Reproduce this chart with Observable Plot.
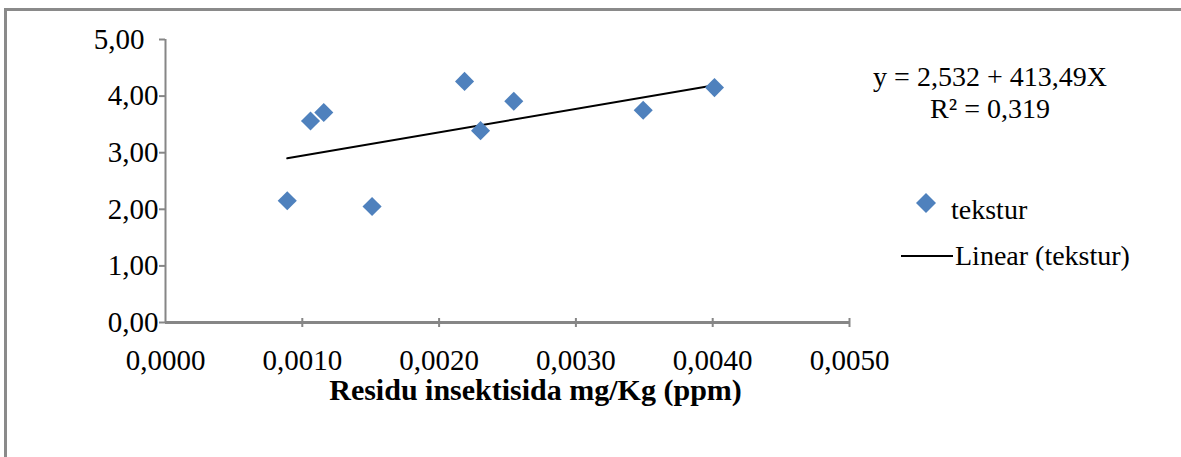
<!DOCTYPE html>
<html>
<head>
<meta charset="utf-8">
<script src="https://cdn.jsdelivr.net/npm/d3@7"></script>
<script src="https://cdn.jsdelivr.net/npm/@observablehq/plot@0.6"></script>
<style>
  html, body { margin: 0; padding: 0; background: #fff; width: 1181px; height: 457px; overflow: hidden; }
  #wrap { position: relative; width: 1181px; height: 457px; font-family: "Liberation Serif", "Times New Roman", serif; }
  #frame { position: absolute; left: 4px; top: 8px; width: 1200px; height: 480px; border: 3px solid #8a8a8a; box-sizing: border-box; }
  #chart { position: absolute; left: 0; top: 0; }
  #chart svg text { font-family: "Liberation Serif", "Times New Roman", serif; }
  .eq { position: absolute; left: 860px; width: 260px; text-align: center; font-family: "Liberation Serif", serif; font-size: 28px; line-height: 32px; color: #000; white-space: nowrap; }
  .leg { position: absolute; font-family: "Liberation Serif", serif; font-size: 28px; line-height: 32px; color: #000; white-space: nowrap; }
  .sym { position: absolute; }
</style>
</head>
<body>
<div id="wrap">
  <div id="frame"></div>
  <div id="chart"></div>
  <div class="eq" id="eq" style="top:61px"></div>
  <svg class="sym" id="sym1" style="left:914px; top:191px;" width="24" height="24"></svg>
  <div class="leg" id="leg1" style="left:951px; top:194px;"></div>
  <svg class="sym" id="sym2" style="left:901px; top:251px;" width="52" height="10"></svg>
  <div class="leg" id="leg2" style="left:955px; top:240px;"></div>
</div>
<script>
// ---- data ----
const residu  = [0.00089, 0.00106, 0.001157, 0.00151, 0.002186, 0.002303, 0.002546, 0.003492, 0.004013];
const tekstur = [2.15, 3.56, 3.71, 2.05, 4.26, 3.39, 3.91, 3.75, 4.15];
const intercept = 2.532;
const slope = 413.49;
const rSquared = 0.319;
const xTicks = [0, 0.001, 0.002, 0.003, 0.004, 0.005];
const yTicks = [0, 1, 2, 3, 4, 5];
const xLabel = "Residu insektisida mg/Kg (ppm)";
const seriesName = "tekstur";
const trendName = "Linear (tekstur)";

const blue = "#4f81bd";
const axisGray = "#868686";
const serif = "'Liberation Serif', 'Times New Roman', serif";
const comma = (v, n) => v.toFixed(n).replace(".", ",");

const points = residu.map((x, i) => ({x, y: tekstur[i]}));
const xr = d3.extent(residu);
const trend = xr.map(x => ({x, y: intercept + slope * x}));
const yTop = yTicks[yTicks.length - 1];

const plot = Plot.plot({
  width: 1181,
  height: 457,
  marginLeft: 165,
  marginRight: 332,
  marginTop: 39,
  marginBottom: 135,
  x: {domain: [0, 0.005]},
  y: {domain: [0, 5]},
  style: {fontFamily: serif, fontSize: "29px", color: "#000", background: "transparent", overflow: "visible"},
  marks: [
    Plot.ruleX([0], {stroke: axisGray, strokeWidth: 2}),
    Plot.ruleY([0], {stroke: axisGray, strokeWidth: 3}),
    Plot.axisY({ticks: yTicks.slice(0, -1), tickFormat: d => comma(d, 2), tickSize: 6, tickPadding: 1, stroke: axisGray, strokeWidth: 2, label: null, fontSize: 29, fill: "#000"}),
    Plot.axisY({ticks: [yTop], tickFormat: d => comma(d, 2), tickSize: 6, tickPadding: 15, stroke: axisGray, strokeWidth: 2, label: null, fontSize: 29, fill: "#000"}),
    Plot.axisX({ticks: xTicks.slice(1), tickSize: 9, text: null, dy: -4, stroke: axisGray, strokeWidth: 2, label: null}),
    Plot.axisX({ticks: xTicks, tickFormat: d => comma(d, 4), tickSize: 0, tickPadding: 27, label: null, fontSize: 29, fill: "#000"}),
    Plot.line(trend, {x: "x", y: "y", stroke: "#000", strokeWidth: 2}),
    Plot.dot(points, {x: "x", y: "y", symbol: "diamond2", r: 8.6, fill: blue, stroke: "none"}),
    Plot.text([xLabel], {frameAnchor: "bottom", dx: 28, dy: 77, fontWeight: "bold", fontSize: 30, fontFamily: serif, fill: "#000"})
  ]
});
document.getElementById("chart").appendChild(plot);

document.getElementById("eq").innerHTML =
  "y = " + comma(intercept, 3) + " + " + comma(slope, 2) + "X<br>R² = " + comma(rSquared, 3);

document.getElementById("sym1").innerHTML = `<path d="M12,2 L22,12 L12,22 L2,12 Z" fill="${blue}"/>`;
document.getElementById("leg1").textContent = seriesName;
document.getElementById("sym2").innerHTML = `<line x1="0" y1="5" x2="52" y2="5" stroke="#000" stroke-width="2"/>`;
document.getElementById("leg2").textContent = trendName;
</script>
</body>
</html>
